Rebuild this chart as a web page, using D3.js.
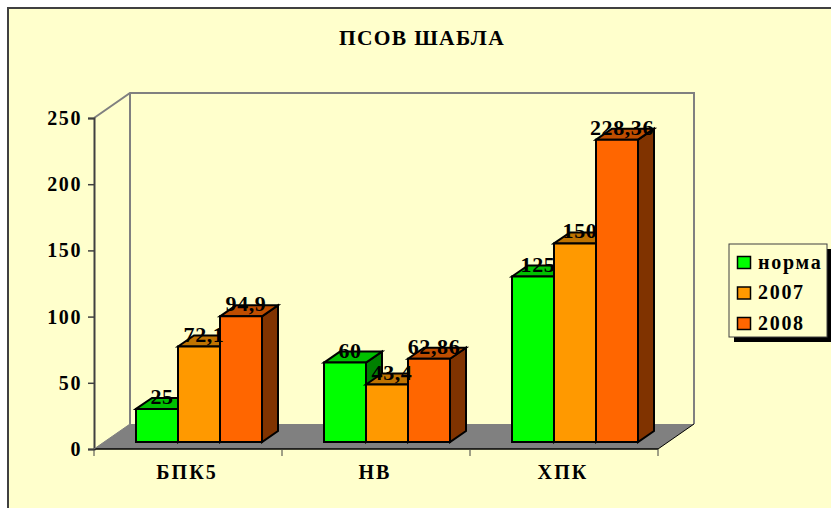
<!DOCTYPE html>
<html><head><meta charset="utf-8">
<script src="https://cdn.jsdelivr.net/npm/d3@7"></script>
<style>html,body{margin:0;padding:0;background:#fff}svg{display:block}
text{font-family:"Liberation Serif",serif;font-weight:bold;fill:#000}</style></head>
<body><svg id="c" width="831" height="508"></svg>
<script>
const categories = ["БПК5","НВ","ХПК"];
const seriesNames = ["норма","2007","2008"];
const norma = [25,60,125];
const y2007 = [72.1,43.4,150];
const y2008 = [94.9,62.86,228.36];
const valueLabels = [["25","60","125"],["72,1","43,4","150"],["94,9","62,86","228,36"]];
const yTicks = [0,50,100,150,200,250];
const titleText = "ПСОВ ШАБЛА";
const faceColors = ["#00FF00","#FF9900","#FF6600"];
const topColors = ["#00C000","#BF7300","#BF4D00"];
const sideColors = ["#008000","#804D00","#803300"];
const series = [norma,y2007,y2008];

const svg = d3.select("#c");
const W=831,H=508;
const x0=94,x1=658,yBase=449,yTop=118,wallDx=36,wallDy=-25;
const barDx=16,barDy=-11,barLift=7,barW=42,groupInset=42;
svg.append("rect").attr("x",8).attr("y",8).attr("width",W+20).attr("height",H+20)
  .attr("fill","#FFFFCC").attr("stroke","#404040").attr("stroke-width",2);
const y=d3.scaleLinear().domain([0,250]).range([yBase,yTop]);
const xBand=d3.scaleBand().domain(categories).range([x0,x1]);
const xSeries=d3.scaleBand().domain(seriesNames).range([0,barW*3]);

// walls and floor
const poly=(pts,fill)=>svg.append("polygon").attr("points",pts.map(p=>p.join(",")).join(" ")).attr("fill",fill);
poly([[x0,yBase],[x0+wallDx,yBase+wallDy],[x1+wallDx,yBase+wallDy],[x1,yBase]],"#808080");
svg.append("path").attr("fill","none").attr("stroke","#808080").attr("stroke-width",2)
  .attr("d",`M${x0},${yTop}L${x0+wallDx},${yTop+wallDy}H${x1+wallDx}V${yBase+wallDy}M${x0+wallDx},${yTop+wallDy}V${yBase+wallDy}`);

// bars
categories.forEach((c,ci)=>{
  const gx=xBand(c)+groupInset;
  seriesNames.forEach((s,si)=>{
    const v=series[si][ci];
    const l=gx+xSeries(s), r=l+barW, t=y(v)-barLift, b=y(0)-barLift;
    const g=svg.append("g").attr("class","bar");
    const P=(pts,fill)=>g.append("polygon").attr("points",pts.map(p=>p.join(",")).join(" "))
      .attr("fill",fill).attr("stroke","#000").attr("stroke-width",2).attr("stroke-linejoin","miter");
    P([[r,t],[r+barDx,t+barDy],[r+barDx,b+barDy],[r,b]],sideColors[si]);
    P([[l,t],[l+barDx,t+barDy],[r+barDx,t+barDy],[r,t]],topColors[si]);
    P([[l,t],[r,t],[r,b],[l,b]],faceColors[si]);
  });
});
// value labels
categories.forEach((c,ci)=>{
  const gx=xBand(c)+groupInset;
  seriesNames.forEach((s,si)=>{
    const v=series[si][ci];
    const cx=gx+xSeries(s)+barW/2+5;
    svg.append("text").attr("x",cx).attr("y",y(v)-barLift-5)
      .attr("text-anchor","middle").attr("font-size",22).attr("letter-spacing",0.6)
      .text(valueLabels[si][ci]);
  });
});

// axes
const yAxis=d3.axisLeft(y).tickValues(yTicks).tickSize(6).tickPadding(6).tickFormat(d3.format("d"));
const ya=svg.append("g").attr("transform",`translate(${x0},0)`).call(yAxis);
ya.select(".domain").attr("stroke","#404040").attr("stroke-width",2);
ya.selectAll(".tick line").attr("stroke","#404040").attr("stroke-width",1.5);
ya.selectAll("text").attr("font-size",20).attr("letter-spacing",1.6).attr("font-family","Liberation Serif").attr("font-weight","bold");

const xa=svg.append("g");
xa.append("line").attr("x1",x0).attr("x2",x1).attr("y1",yBase).attr("y2",yBase).attr("stroke","#000").attr("stroke-width",1.5);
xa.append("line").attr("x1",x1).attr("x2",x1+wallDx).attr("y1",yBase).attr("y2",yBase+wallDy).attr("stroke","#000").attr("stroke-width",1);
xa.append("line").attr("x1",x0).attr("x2",x0+wallDx).attr("y1",yBase).attr("y2",yBase+wallDy).attr("stroke","#808080").attr("stroke-width",1);
[...categories.map(c=>xBand(c)),x1].forEach(t=>xa.append("line").attr("x1",t).attr("x2",t).attr("y1",yBase).attr("y2",yBase+7).attr("stroke","#404040").attr("stroke-width",1));
categories.forEach(c=>xa.append("text").attr("x",xBand(c)+xBand.bandwidth()/2-1).attr("y",479)
  .attr("text-anchor","middle").attr("font-size",20).attr("letter-spacing",2.1).text(c));

// title
svg.append("text").attr("x",422).attr("y",45).attr("text-anchor","middle").attr("font-size",21.5).attr("letter-spacing",1.3).text(titleText);

// legend
const lg=svg.append("g");
lg.append("rect").attr("x",734).attr("y",249).attr("width",98).attr("height",93).attr("fill","#000");
lg.append("rect").attr("x",729).attr("y",244).attr("width",98).attr("height",93).attr("fill","#FFFFCC").attr("stroke","#404040").attr("stroke-width",1);
const ly=d3.scalePoint().domain(seriesNames).range([262.5,323.5]);
seriesNames.forEach((s,i)=>{
  lg.append("rect").attr("x",737.5).attr("y",ly(s)-6).attr("width",13).attr("height",12).attr("fill",faceColors[i]).attr("stroke","#000").attr("stroke-width",1.5);
  lg.append("text").attr("x",758).attr("y",ly(s)+6).attr("font-size",20).attr("letter-spacing",1.7).text(s);
});
</script></body></html>
